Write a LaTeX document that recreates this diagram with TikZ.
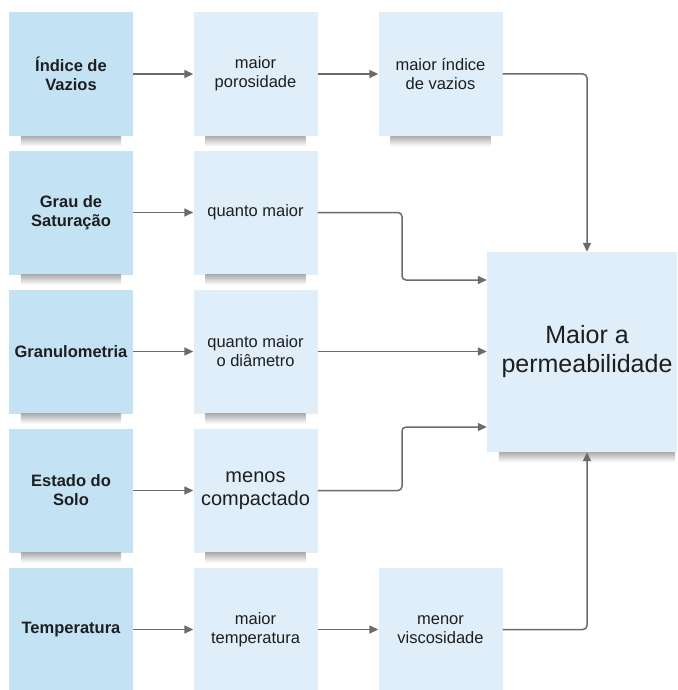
\documentclass[tikz,border=0pt]{standalone}
\usepackage{fontspec}
\setmainfont{Liberation Sans}
\usetikzlibrary{arrows.meta,calc}
\definecolor{fatorblue}{HTML}{C3E3F5}
\definecolor{efeitoblue}{HTML}{DFEEF9}
\definecolor{linegrey}{HTML}{6B6B6B}
\definecolor{textdark}{HTML}{1E1E1E}
\begin{document}
\begin{tikzpicture}[
        x=1pt, y=-1pt,
        font=\fontsize{16.5}{19}\selectfont,
        text=textdark
    ]
    \tikzset{
        fatorbox/.style = {rectangle, fill=fatorblue, align=center, minimum width=124pt, minimum height=124pt, inner sep=0pt, font=\fontsize{16.5}{19}\selectfont\bfseries},
        efeitobox/.style = {rectangle, fill=efeitoblue, align=center, minimum width=124pt, minimum height=124pt, inner sep=0pt},
        resultbox/.style = {rectangle, fill=efeitoblue, align=center, minimum width=200pt, minimum height=200pt, inner sep=0pt, font=\fontsize{25}{29}\selectfont},
        boxshadow/.style = {top color=black!32, bottom color=white, draw=none},
        conn/.style = {-{Triangle[length=9pt,width=8pt]}, line width=1.5pt, draw=linegrey, rounded corners=4pt},
    }
    \clip (0,0) rectangle (677,690);
    \fill[white] (0,0) rectangle (677,690);
    %
    \node[resultbox] at (587,352) (perm) {Maior a\\permeabilidade};
    %
    \node[fatorbox] at (71,74) (v1) {Índice de\\Vazios};
    \node[efeitobox] at (255.5,74) (v2) {maior\\porosidade};
    \node[efeitobox] at (440.5,74) (v3) {maior índice\\de vazios};
    %
    \node[fatorbox] at (71,212.5) (s1) {Grau de\\Saturação};
    \node[efeitobox] at (255.5,212.5) (s2) {quanto maior};
    %
    \node[fatorbox] at (71,351.5) (g1) {Granulometria};
    \node[efeitobox] at (255.5,351.5) (g2) {quanto maior\\o diâmetro};
    %
    \node[fatorbox] at (71,490.5) (e1) {Estado do\\Solo};
    \node[efeitobox, font=\fontsize{20}{23}\selectfont] at (255.5,490.5) (e2) {menos\\compactado};
    %
    \node[fatorbox] at (71,629.5) (t1) {Temperatura};
    \node[efeitobox] at (255.5,629.5) (t2) {maior\\temperatura};
    \node[efeitobox] at (440.5,629.5) (t3) {menor\\viscosidade};
    %
    % soft shadows under the boxes
    \foreach \n in {v1,v2,v3,s1,s2,g1,g2,e1,e2,perm}
        \shade[boxshadow] ($(\n.south west)+(12,0)$) rectangle ($(\n.south east)+(-12,10)$);
    %
    \coordinate (js) at (402,280);
    \coordinate (je) at (402,427);
    %
    \draw[conn] (v1) -- (v2);
    \draw[conn] (v2) -- (v3);
    \draw[conn] (v3.east) -| (perm.north);
    %
    \draw[conn] (s1) -- (s2);
    \draw[conn] (s2.east) -| (js) -- (js -| perm.west);
    %
    \draw[conn] (g1) -- (g2);
    \draw[conn] (g2.east) -- (g2.east -| perm.west);
    %
    \draw[conn] (e1) -- (e2);
    \draw[conn] (e2.east) -| (je) -- (je -| perm.west);
    %
    \draw[conn] (t1) -- (t2);
    \draw[conn] (t2) -- (t3);
    \draw[conn] (t3.east) -| (perm.south);
\end{tikzpicture}
\end{document}
